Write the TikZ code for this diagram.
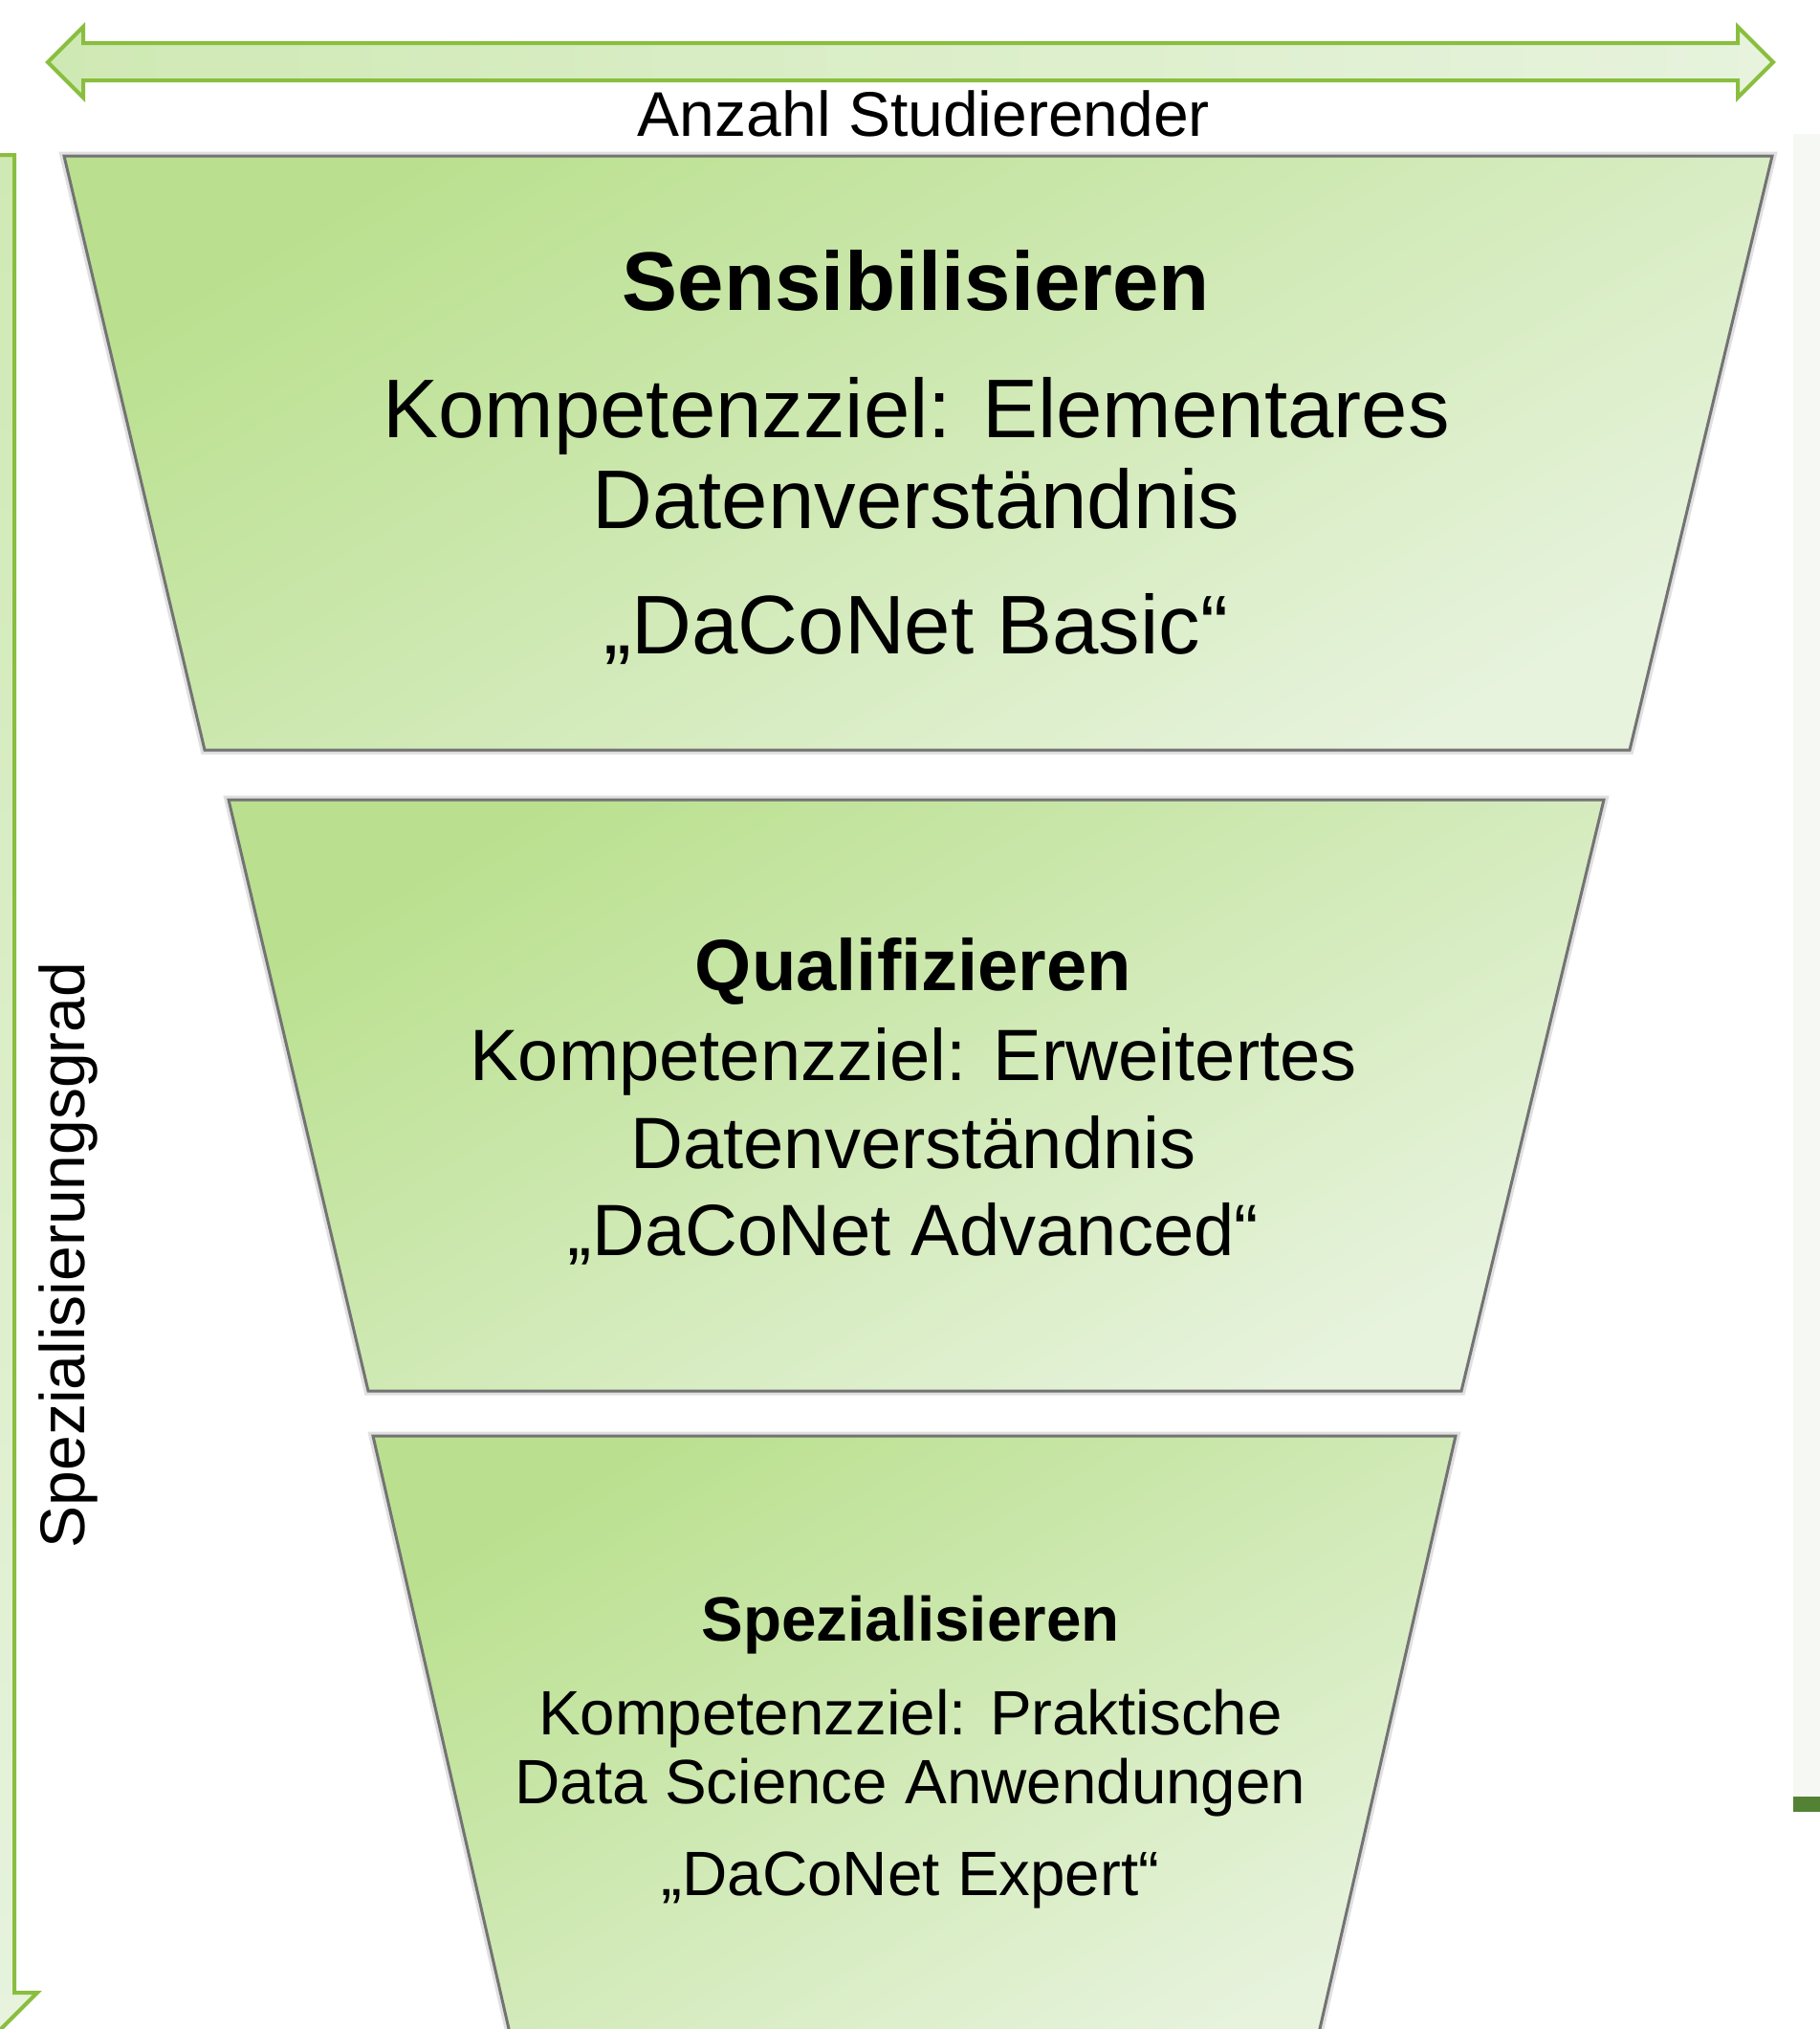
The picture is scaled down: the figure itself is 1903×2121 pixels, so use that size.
\documentclass[tikz,border=0pt]{standalone}
\usepackage{fontspec}
\setmainfont{Liberation Sans}
\definecolor{leafdark}{RGB}{186,224,143}
\definecolor{leafmid}{RGB}{207,233,180}
\definecolor{leaflight}{RGB}{231,243,221}
\definecolor{leafline}{RGB}{137,190,62}
\definecolor{barGreen}{RGB}{84,130,53}
\definecolor{paleStripe}{RGB}{246,248,243}
\newcommand\px[1]{\fontsize{#1}{#1}\selectfont}

\begin{document}
\begin{tikzpicture}[x=1pt,y=-1pt,
                    funnel/.style={draw=black!55,line width=3pt,line join=miter,
                      preaction={draw=black,draw opacity=0.12,line width=9pt},
                      top color=leafdark,bottom color=leaflight,shading angle=30},
                    bigarrow/.style={draw=leafline,line width=4pt,line join=miter},
                    txt/.style={anchor=base,inner sep=0pt,text=black}]
  \useasboundingbox (0,0) rectangle (1903,2121);
  \clip (0,0) rectangle (1903,2121);

% stripe on the right edge
  \fill[paleStripe] (1875,140) rectangle (1903,1877);
  \fill[barGreen]   (1875,1878) rectangle (1903,1894);

% arrows
  \path[bigarrow,left color=leafmid,right color=leaflight]
    (50,65) -- (87,28) -- (87,45) -- (1817,45) -- (1817,28) -- (1854,65)
    -- (1817,102) -- (1817,84) -- (87,84) -- (87,102) -- cycle;
  \path[bigarrow,top color=leafmid,bottom color=leaflight]
    (-21,162) -- (15,162) -- (15,2083) -- (39,2083) -- (-3,2125)
    -- (-45,2083) -- (-21,2083) -- cycle;

% funnel
  \path[funnel] (67,163) -- (1853,163) -- (1704,784) -- (214,784) -- cycle;
  \path[funnel] (239,836) -- (1677,836) -- (1528,1454) -- (385,1454) -- cycle;
  \path[funnel] (390,1501) -- (1522,1501) -- (1371,2160) -- (541,2160) -- cycle;

  \node[txt] (N) at (966,142) {\px{66}Anzahl Studierender};
  \node[txt,rotate=90] (G) at (88,1312) {\px{66}Spezialisierungsgrad};

  \node[txt] (S)  at (958,324)  {\px{87}\bfseries Sensibilisieren};
  \node[txt] (S1) at (958,457)  {\px{87}Kompetenzziel: Elementares};
  \node[txt] (S2) at (958,552)  {\px{87}Datenverständnis};
  \node[txt] (S3) at (958,683)  {\px{87}„DaCoNet Basic“};

  \node[txt] (Q)  at (955,1035) {\px{76}\bfseries Qualifizieren};
  \node[txt] (Q1) at (955,1129) {\px{76}Kompetenzziel: Erweitertes};
  \node[txt] (Q2) at (955,1221) {\px{76}Datenverständnis};
  \node[txt] (Q3) at (955,1312) {\px{76}„DaCoNet Advanced“};

  \node[txt] (P)  at (952,1715) {\px{65.5}\bfseries Spezialisieren};
  \node[txt] (P1) at (952,1813) {\px{65.5}Kompetenzziel: Praktische};
  \node[txt] (P2) at (952,1885) {\px{65.5}Data Science Anwendungen};
  \node[txt] (P3) at (952,1981) {\px{65.5}„DaCoNet Expert“};
\end{tikzpicture}
\end{document}
